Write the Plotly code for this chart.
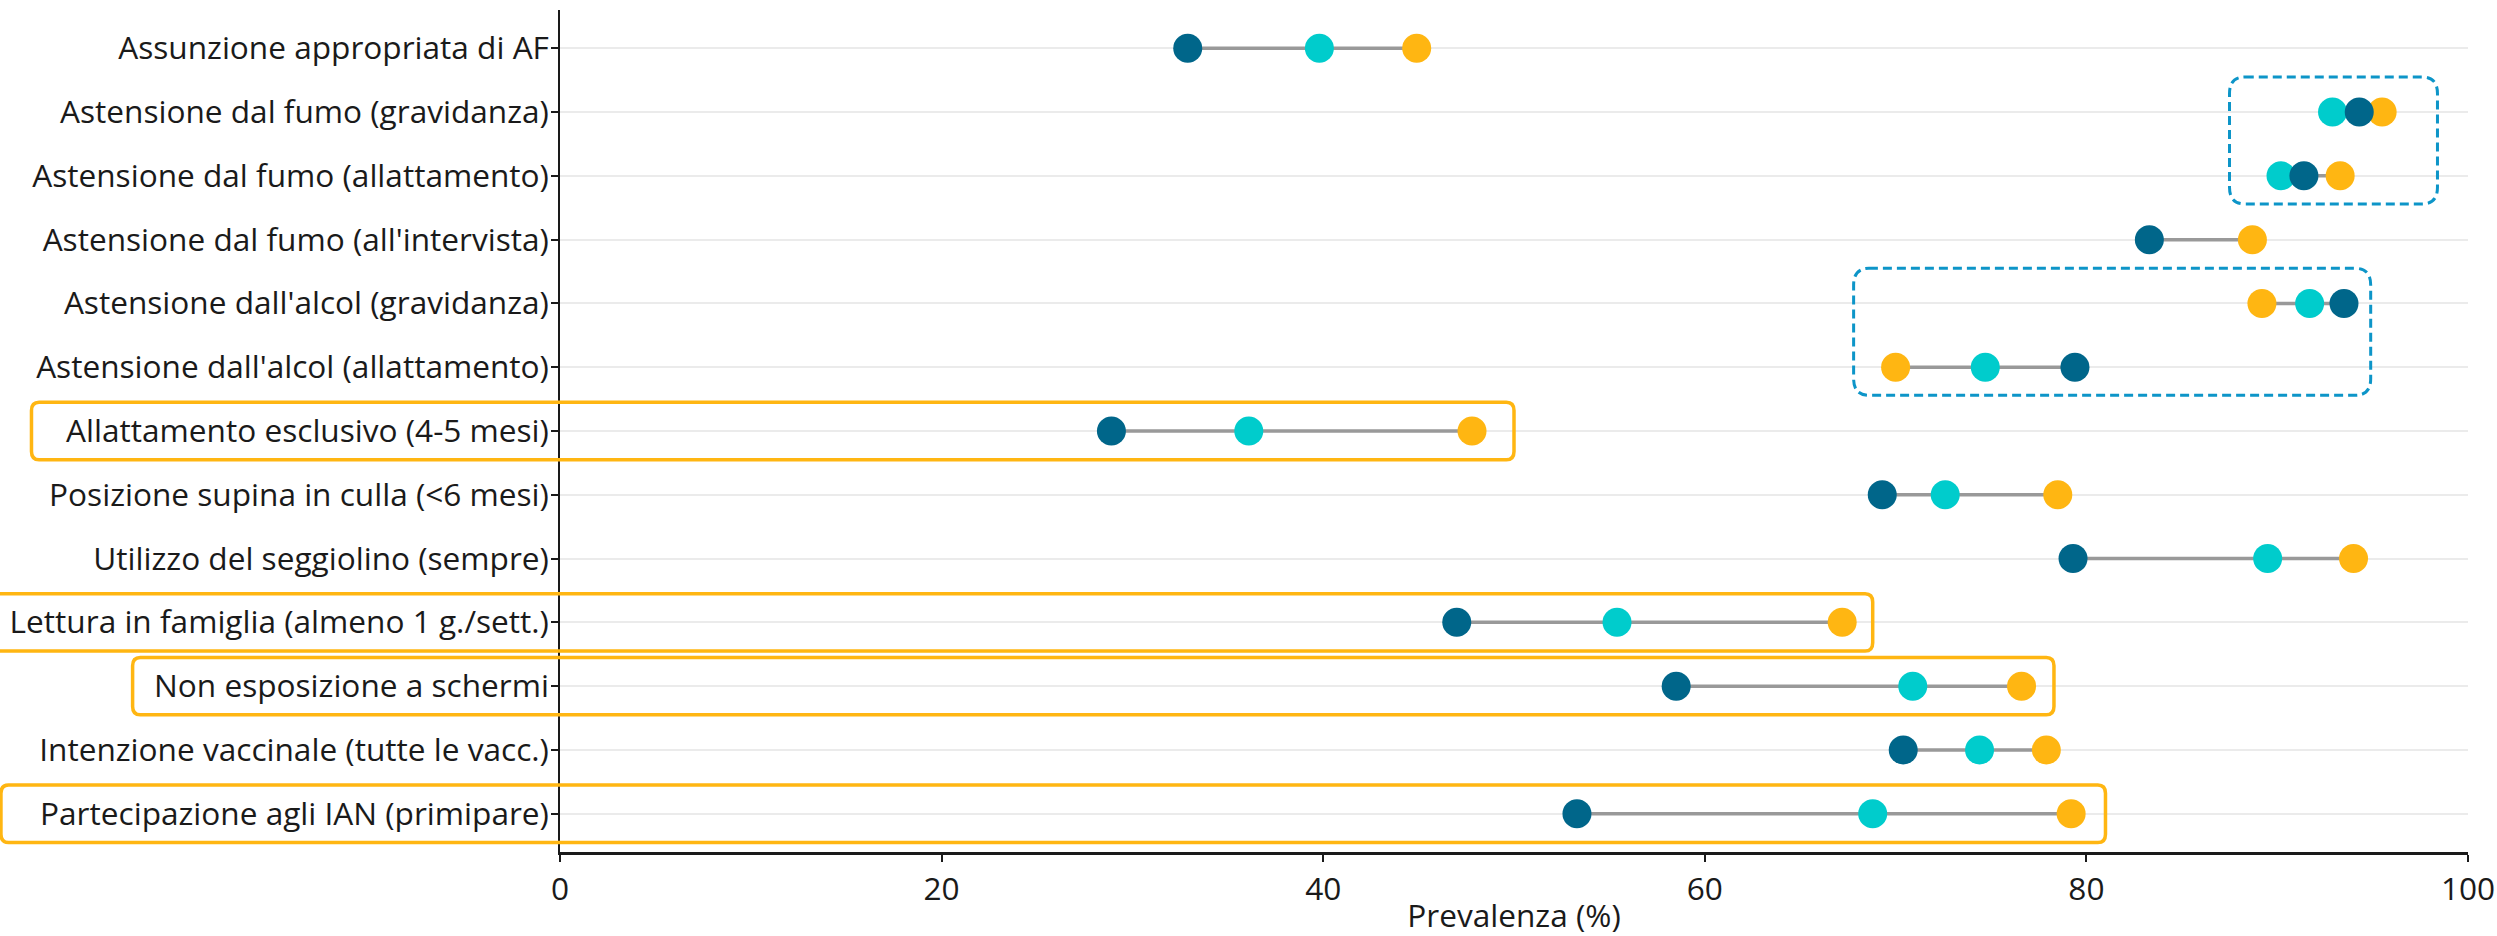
import plotly.graph_objects as go

categories = [
    "Assunzione appropriata di AF",
    "Astensione dal fumo (gravidanza)",
    "Astensione dal fumo (allattamento)",
    "Astensione dal fumo (all'intervista)",
    "Astensione dall'alcol (gravidanza)",
    "Astensione dall'alcol (allattamento)",
    "Allattamento esclusivo (4-5 mesi)",
    "Posizione supina in culla (<6 mesi)",
    "Utilizzo del seggiolino (sempre)",
    "Lettura in famiglia (almeno 1 g./sett.)",
    "Non esposizione a schermi",
    "Intenzione vaccinale (tutte le vacc.)",
    "Partecipazione agli IAN (primipare)",
]
serie_scura = [32.9, 94.3, 91.4, 83.3, 93.5, 79.4, 28.9, 69.3, 79.3, 47.0, 58.5, 70.4, 53.3]
serie_ciano = [39.8, 92.9, 90.2, None, 91.7, 74.7, 36.1, 72.6, 89.5, 55.4, 70.9, 74.4, 68.8]
serie_arancio = [44.9, 95.5, 93.3, 88.7, 89.2, 70.0, 47.8, 78.5, 94.0, 67.2, 76.6, 77.9, 79.2]
x_ticks = [0, 20, 40, 60, 80, 100]

# highlighted rows (orange boxes): (row index, left edge in paper units, right edge in data units)
box_arancio = [(6, -0.277, 50.0), (9, -0.30, 68.8), (10, -0.224, 78.3), (12, -0.293, 81.0)]
# dashed blue boxes: (first row, last row, x from, x to) in data units
box_blu = [(1, 2, 87.5, 98.4), (4, 5, 67.8, 94.9)]

C_DARK = "#00668A"
C_CYAN = "#00CCCC"
C_ORANGE = "#FFB612"
FONT = "Open Sans"
FS = 31.6

fig = go.Figure()

# connecting segments
seg_x, seg_y = [], []
for cat, a, b, c in zip(categories, serie_scura, serie_ciano, serie_arancio):
    vals = [v for v in (a, b, c) if v is not None]
    seg_x += [min(vals), max(vals), None]
    seg_y += [cat, cat, None]
fig.add_trace(go.Scatter(x=seg_x, y=seg_y, mode="lines",
                         line=dict(color="#999999", width=3.5),
                         hoverinfo="skip", showlegend=False))

for vals, col, name in [(serie_arancio, C_ORANGE, "arancio"),
                        (serie_ciano, C_CYAN, "ciano"),
                        (serie_scura, C_DARK, "scura")]:
    fig.add_trace(go.Scatter(x=vals, y=categories, mode="markers", name=name,
                             marker=dict(color=col, size=29, line=dict(width=0)),
                             showlegend=False))


def rounded_path(x0, x1, y0, y1, rx, ry):
    return (f"M {x0+rx},{y0} L {x1-rx},{y0} Q {x1},{y0} {x1},{y0+ry} "
            f"L {x1},{y1-ry} Q {x1},{y1} {x1-rx},{y1} L {x0+rx},{y1} "
            f"Q {x0},{y1} {x0},{y1-ry} L {x0},{y0+ry} Q {x0},{y0} {x0+rx},{y0} Z")


shapes = []
for row, left, right in box_arancio:
    shapes.append(dict(type="path", xref="paper", yref="y",
                       path=rounded_path(left, right / 100.0, row - 0.45, row + 0.45, 0.004, 0.13),
                       line=dict(color=C_ORANGE, width=3.5), layer="above"))
for r0, r1, xa, xb in box_blu:
    shapes.append(dict(type="path", xref="x", yref="y",
                       path=rounded_path(xa, xb, r0 - 0.55, r1 + 0.44, 0.8, 0.26),
                       line=dict(color="#0D95C8", width=3, dash="9px,5px"), layer="above"))

fig.update_layout(
    width=2497, height=936,
    margin=dict(l=560, r=29, t=10, b=84),
    paper_bgcolor="white", plot_bgcolor="white",
    font=dict(family=FONT, size=FS, color="#1a1a1a"),
    shapes=shapes,
    xaxis=dict(range=[0, 100], tickvals=x_ticks, ticktext=[str(v) for v in x_ticks],
               automargin=False, ticklabeloverflow="allow",
               showgrid=False, zeroline=False, showline=True, linecolor="#1a1a1a", linewidth=2.5,
               ticks="outside", ticklen=7, tickwidth=1.5, tickcolor="#1a1a1a",
               tickfont=dict(family=FONT, size=FS, color="#1a1a1a"),
               title=dict(text="Prevalenza (%)", standoff=6,
                          font=dict(family=FONT, size=FS, color="#1a1a1a"))),
    yaxis=dict(type="category", categoryorder="array", categoryarray=categories,
               range=[12.6, -0.6], automargin=False, ticklabeloverflow="allow",
               ticklabelstandoff=-4,
               showgrid=True, gridcolor="#EBEBEB", gridwidth=1.5, zeroline=False,
               showline=True, linecolor="#1a1a1a", linewidth=1.5,
               ticks="outside", ticklen=7, tickwidth=1.5, tickcolor="#1a1a1a",
               tickfont=dict(family=FONT, size=FS, color="#1a1a1a")),
)

# remove the default 8px page margin so the figure fills the window exactly
fig.write_html("out.html", config={"displayModeBar": False},
               post_script="document.body.style.margin='0';")
